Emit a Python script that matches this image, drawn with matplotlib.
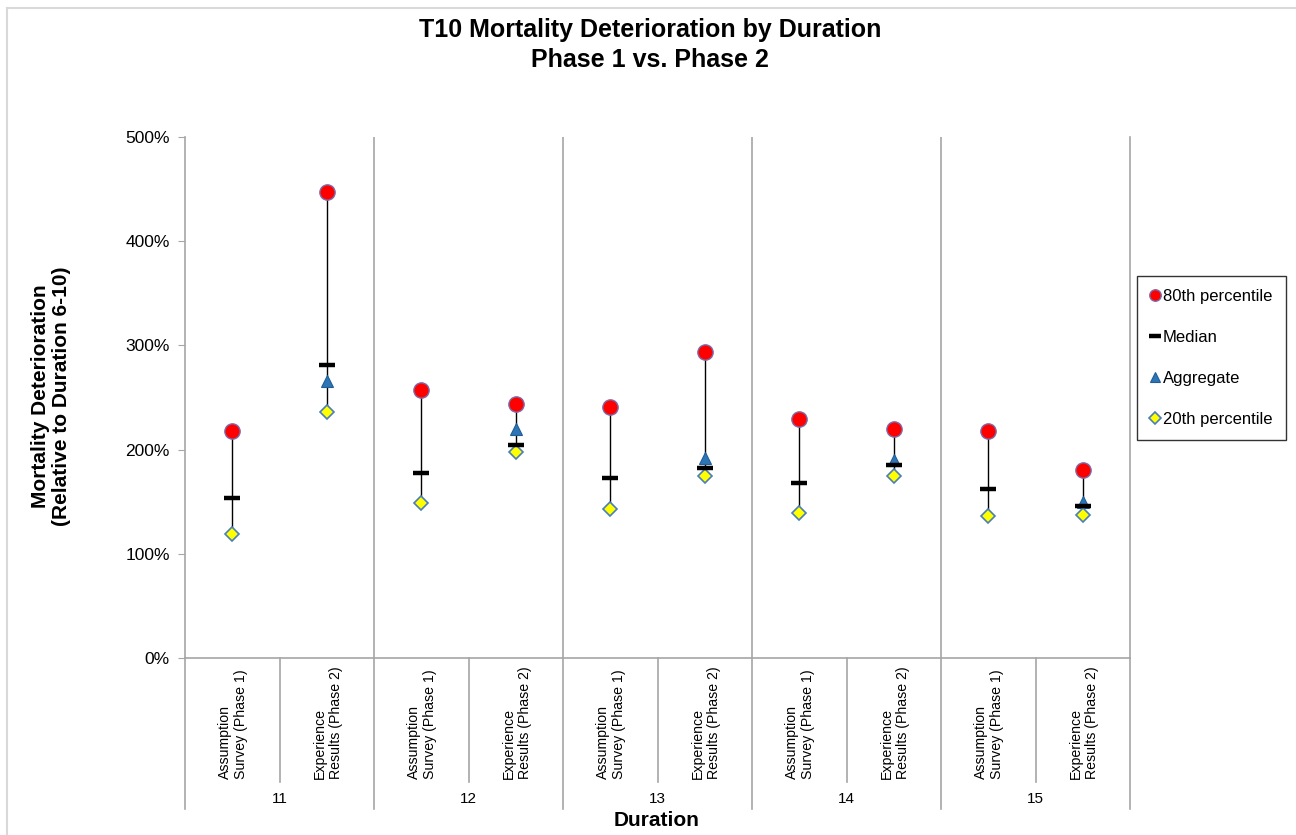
import numpy as np
import matplotlib.pyplot as plt
import matplotlib.transforms as mtransforms
from matplotlib.lines import Line2D
from matplotlib.ticker import FuncFormatter

plt.rcParams['font.family'] = ['Liberation Sans', 'DejaVu Sans']

durations = ["11", "12", "13", "14", "15"]
sources = ["Assumption\nSurvey (Phase 1)", "Experience\nResults (Phase 2)"]

# values as fractions (1.0 = 100%), order: (11 P1, 11 P2, 12 P1, 12 P2, ...)
p80 = [2.18, 4.47, 2.57, 2.44, 2.41, 2.94, 2.29, 2.20, 2.18, 1.80]
median = [1.54, 2.81, 1.775, 2.04, 1.73, 1.82, 1.675, 1.85, 1.62, 1.46]
aggregate = [np.nan, 2.66, np.nan, 2.20, np.nan, 1.915, np.nan, 1.90, np.nan, 1.50]
p20 = [1.19, 2.365, 1.49, 1.975, 1.43, 1.745, 1.395, 1.745, 1.365, 1.375]

grid_col = "#A6A6A6"

fig = plt.figure(figsize=(12.96, 8.35), dpi=100)
ax = fig.add_axes([185 / 1296, 1 - 658 / 835, 945 / 1296, 521 / 835])

x = np.arange(len(p80))

# high-low lines
ax.vlines(x, p20, p80, color="black", lw=1.0, zorder=2)

ax.plot(x, p80, ls="none", marker="o", ms=11, mfc="#FF0000", mec="#7E6AA8", mew=1.0,
        zorder=4, label="80th percentile")
ax.plot(x, median, ls="none", marker="_", ms=12, mew=3.2, color="black",
        zorder=5, label="Median")
ax.plot(x, aggregate, ls="none", marker="^", ms=9, mfc="#2E75B6", mec="#1F5E99", mew=0.8,
        zorder=4, label="Aggregate")
ax.plot(x, p20, ls="none", marker="D", ms=7.5, mfc="#FFFF00", mec="#4A7EBB", mew=1.2,
        zorder=4, label="20th percentile")

ax.set_xlim(-0.5, len(p80) - 0.5)
ax.set_ylim(0, 5)
ax.set_yticks(np.arange(0, 6, 1))
ax.yaxis.set_major_formatter(FuncFormatter(lambda v, p: "{:.0f}%".format(v * 100)))
ax.tick_params(axis="y", labelsize=12.5, length=5, color=grid_col, pad=6)
ax.set_xticks([])

ax.spines["top"].set_visible(False)
for s in ["left", "right", "bottom"]:
    ax.spines[s].set_color(grid_col)
    ax.spines[s].set_linewidth(1.2)

# group separators inside plot
for b in np.arange(1.5, len(p80) - 1, 2):
    ax.axvline(b, color=grid_col, lw=1.2, zorder=1)

# category axis below plot
trans = mtransforms.blended_transform_factory(ax.transData, ax.transAxes)
px = 1 / 521
for b in np.arange(-0.5, len(p80), 2):
    ax.add_line(Line2D([b, b], [0, -151 * px], transform=trans, color=grid_col, lw=1.2,
                       clip_on=False))
for b in np.arange(0.5, len(p80), 2):
    ax.add_line(Line2D([b, b], [0, -124 * px], transform=trans, color=grid_col, lw=1.2,
                       clip_on=False))

for i in range(len(p80)):
    ax.text(i + 0.01, -121 * px, sources[i % 2], transform=trans, rotation=90, ha="center",
            va="bottom", multialignment="left", fontsize=10.2, linespacing=1.2)

for g, d in enumerate(durations):
    ax.text(2 * g + 0.5, -141 * px, d, transform=trans, ha="center", va="center",
            fontsize=11)

fig.text(657 / 1296, 1 - 821 / 835, "Duration", ha="center", va="center", fontsize=15,
         fontweight="bold")

fig.text(51 / 1296, 1 - 396 / 835, "Mortality Deterioration\n(Relative to Duration 6-10)",
         rotation=90, ha="center", va="center", fontsize=15, fontweight="bold",
         linespacing=1.1)

fig.text(650 / 1296, 1 - 45 / 835, "T10 Mortality Deterioration by Duration\nPhase 1 vs. Phase 2",
         ha="center", va="center", fontsize=18, fontweight="bold", linespacing=1.35)

leg = ax.legend(loc="center left", bbox_to_anchor=(1137 / 1296, 1 - 358 / 835),
                bbox_transform=fig.transFigure, frameon=True, fancybox=False,
                edgecolor="black", fontsize=12, handlelength=0.5, handletextpad=0.25,
                labelspacing=1.55, borderpad=0.8, borderaxespad=0, markerscale=0.75)
leg.get_frame().set_linewidth(1.0)

# faint outer border
fig.add_artist(Line2D([7 / 1296, 7 / 1296], [0, 1 - 8 / 835], transform=fig.transFigure,
                      color="#D9D9D9", lw=1.5))
fig.add_artist(Line2D([7 / 1296, 1], [1 - 8 / 835, 1 - 8 / 835], transform=fig.transFigure,
                      color="#D9D9D9", lw=1.5))

fig.savefig("out.png", dpi=100)
